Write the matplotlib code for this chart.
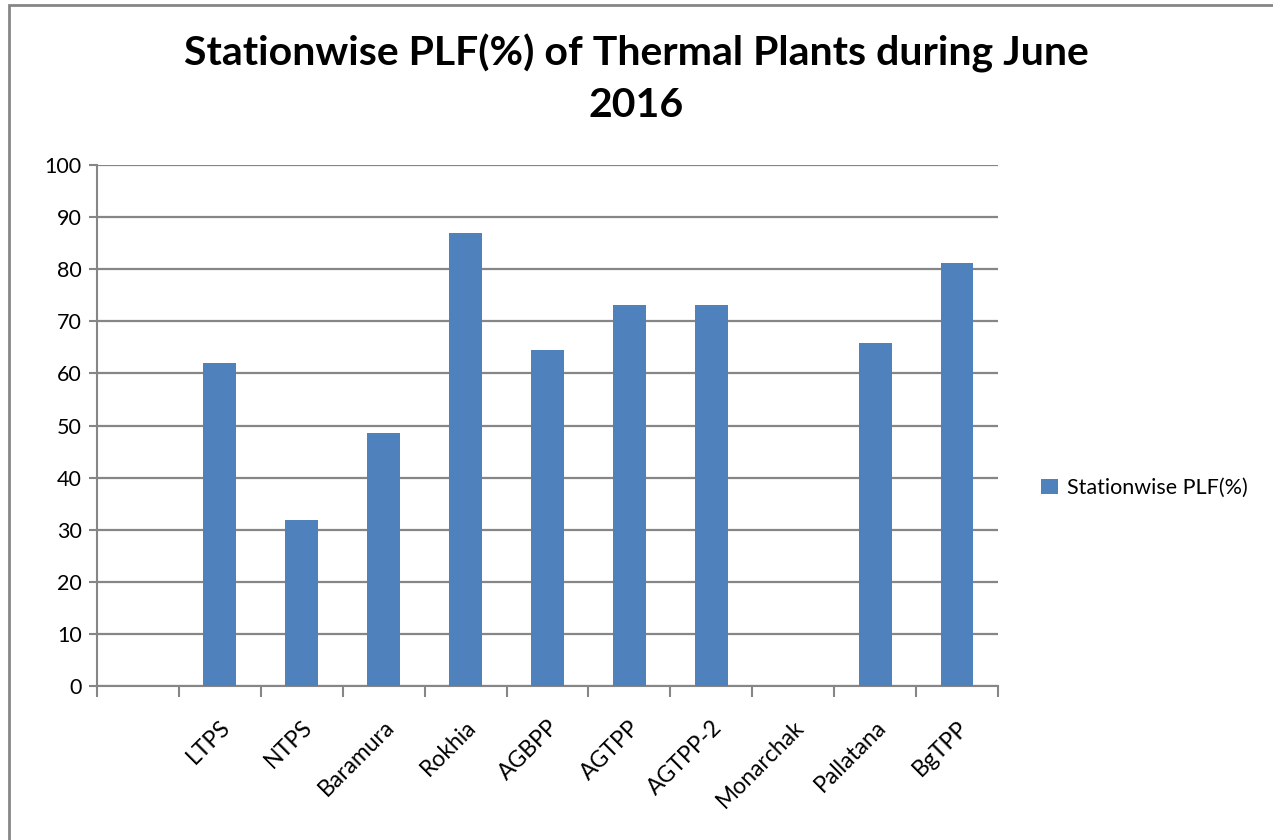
import numpy as np
import matplotlib.pyplot as plt
from matplotlib.patches import Rectangle

# data
stations = ['', 'LTPS', 'NTPS', 'Baramura', 'Rokhia', 'AGBPP', 'AGTPP',
            'AGTPP-2', 'Monarchak', 'Pallatana', 'BgTPP']
plf = [0, 62.0, 31.9, 48.5, 86.9, 64.5, 73.1, 73.1, 0, 65.8, 81.2]
yticks = list(range(0, 101, 10))

bar_color = '#4F81BD'
grid_color = '#868686'
fam = ['Lato', 'DejaVu Sans']

fig = plt.figure(figsize=(12.73, 8.4), dpi=100)
ax = fig.add_axes([97/1273, 1-686/840, (998-97)/1273, (686-165)/840])

x = np.arange(len(stations))
ax.bar(x, plf, width=0.4, color=bar_color, zorder=3, label='Stationwise PLF(%)')

ax.set_xlim(-0.5, len(stations)-0.5)
ax.set_ylim(0, 100)
ax.set_yticks(yticks)
ax.set_yticklabels([str(v) for v in yticks], fontsize=15.5, family=fam)
ax.yaxis.grid(True, color=grid_color, linewidth=1.6, zorder=0)
ax.tick_params(axis='y', length=6, color=grid_color, width=1.5, pad=5)

# labels at centres, tick marks at category boundaries
ax.set_xticks(x)
ax.set_xticklabels(stations, rotation=45, ha='right', rotation_mode='anchor',
                   fontsize=16.5, family=fam)
ax.tick_params(axis='x', which='major', length=0, pad=22)
ax.set_xticks(np.arange(len(stations)+1)-0.5, minor=True)
ax.tick_params(axis='x', which='minor', length=8, color=grid_color, width=1.5)

for s in ['top', 'right']:
    ax.spines[s].set_visible(False)
for s in ['left', 'bottom']:
    ax.spines[s].set_color(grid_color)
    ax.spines[s].set_linewidth(1.5)

fig.text(0.5, 1-79/840, 'Stationwise PLF(%) of Thermal Plants during June\n2016',
         ha='center', va='center', fontsize=29.5, fontweight='bold',
         family=fam, linespacing=1.45)

leg = fig.legend(loc='center left', bbox_to_anchor=(1022/1273, 1-488/840),
                 frameon=False, handlelength=0.75, handleheight=0.75, handletextpad=0.45,
                 prop={'family': 'Lato', 'size': 15.5})

# outer chart border
fig.patches.append(Rectangle((9/1273, -0.02), 1.1, 1-5/840+0.02, transform=fig.transFigure,
                             fill=False, edgecolor='#868686', linewidth=2))

fig.savefig('out.png', dpi=100)
